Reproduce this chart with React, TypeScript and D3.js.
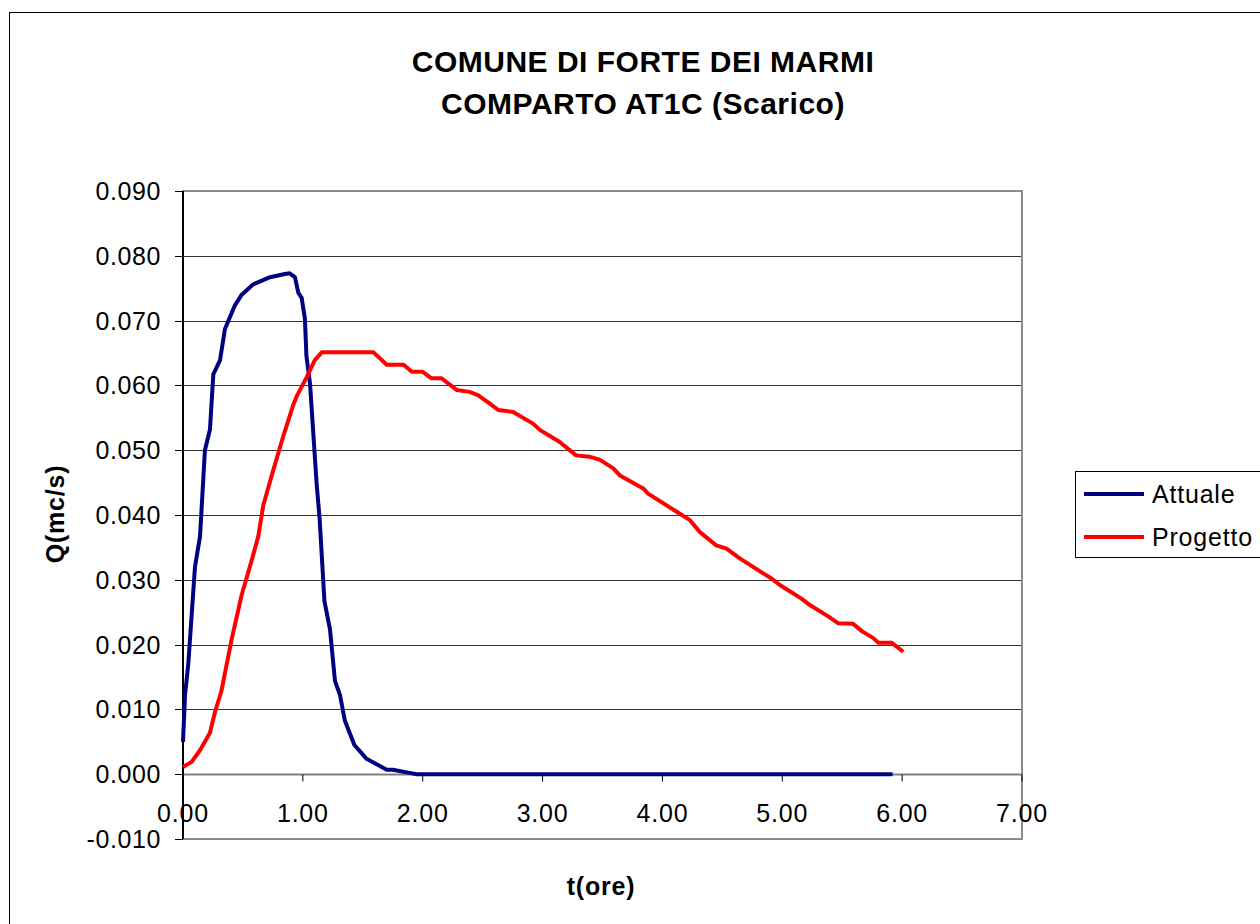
import React, { useEffect, useRef } from 'react';
import * as d3 from 'd3';

// titles / labels
const titleLines = ['COMUNE DI FORTE DEI MARMI', 'COMPARTO AT1C (Scarico)'];
const xTitle = 't(ore)';
const yTitle = 'Q(mc/s)';
const seriesNames = ['Attuale', 'Progetto'];
const seriesColors = ['#000080', '#ff0000'];

const xTicks = [0, 1, 2, 3, 4, 5, 6, 7];
const yTicks = [-0.01, 0, 0.01, 0.02, 0.03, 0.04, 0.05, 0.06, 0.07, 0.08, 0.09];

// Attuale
const attualeT = [0, 0.017, 0.044, 0.10, 0.142, 0.183, 0.225, 0.253, 0.309, 0.35, 0.434, 0.49, 0.586, 0.726, 0.85, 0.89, 0.934, 0.962, 0.99, 1.017, 1.03, 1.06, 1.115, 1.14, 1.18, 1.226, 1.268, 1.31, 1.35, 1.43, 1.53, 1.70, 1.75, 1.89, 1.95, 5.92];
const attualeQ = [0.0050, 0.0122, 0.0170, 0.0320, 0.0367, 0.0500, 0.0532, 0.0617, 0.0639, 0.0687, 0.0724, 0.0740, 0.0756, 0.0767, 0.0772, 0.0773, 0.0767, 0.0743, 0.0735, 0.0703, 0.0645, 0.0602, 0.0448, 0.0394, 0.0267, 0.0224, 0.0144, 0.0122, 0.0083, 0.0045, 0.0024, 0.0007, 0.0007, 0.0002, 0.0, 0.0];

// Progetto
const progettoT = [0, 0.072, 0.142, 0.225, 0.267, 0.32, 0.406, 0.49, 0.573, 0.628, 0.67, 0.753, 0.837, 0.865, 0.92, 0.948, 1.03, 1.10, 1.157, 1.59, 1.70, 1.84, 1.91, 2.0, 2.074, 2.157, 2.283, 2.39, 2.46, 2.56, 2.63, 2.755, 2.92, 2.98, 3.14, 3.28, 3.39, 3.48, 3.59, 3.645, 3.84, 3.88, 4.145, 4.23, 4.31, 4.45, 4.535, 4.645, 4.91, 4.98, 5.16, 5.23, 5.38, 5.465, 5.59, 5.67, 5.76, 5.80, 5.91, 6.01];
const progettoQ = [0.0011, 0.0019, 0.0037, 0.0064, 0.0096, 0.0128, 0.0208, 0.0277, 0.0330, 0.0367, 0.0415, 0.0469, 0.0522, 0.0538, 0.0570, 0.0583, 0.0612, 0.0639, 0.0651, 0.0651, 0.0632, 0.0632, 0.0621, 0.0621, 0.0611, 0.0611, 0.0593, 0.0590, 0.0585, 0.0572, 0.0562, 0.0559, 0.0541, 0.0531, 0.0513, 0.0492, 0.0490, 0.0485, 0.0472, 0.0461, 0.0441, 0.0433, 0.0402, 0.0392, 0.0374, 0.0353, 0.0348, 0.0333, 0.0302, 0.0292, 0.0271, 0.0261, 0.0244, 0.0233, 0.0232, 0.0220, 0.0210, 0.0203, 0.0203, 0.0189];

const W = 1260;
const H = 924;
const font = '"Liberation Sans", Arial, sans-serif';

const App = () => {
    const ref = useRef<SVGSVGElement>(null);

    useEffect(() => {
        const svg = d3.select(ref.current);
        svg.selectAll('*').remove();

        const left = 183, right = 1022, top = 191, bottom = 839;
        const x = d3.scaleLinear().domain([0, 7]).range([left, right]);
        const y = d3.scaleLinear().domain([-0.01, 0.09]).range([bottom, top]);

        svg.append('rect').attr('width', W).attr('height', H).attr('fill', '#fff');

        // chart frame
        svg.append('rect')
            .attr('x', 9.5).attr('y', 12.5)
            .attr('width', W + 20).attr('height', H + 20)
            .attr('fill', 'none').attr('stroke', '#000').attr('stroke-width', 1);

        // gridlines
        svg.selectAll('line.grid')
            .data(yTicks.filter(d => d > 0))
            .enter()
            .append('line')
            .attr('x1', left).attr('x2', right)
            .attr('y1', d => Math.round(y(d)) + 0.5).attr('y2', d => Math.round(y(d)) + 0.5)
            .attr('stroke', '#333').attr('stroke-width', 1.2);

        // plot border (grey)
        svg.append('rect')
            .attr('x', left).attr('y', top)
            .attr('width', right - left).attr('height', bottom - top)
            .attr('fill', 'none').attr('stroke', '#8c8c8c').attr('stroke-width', 2);

        // x axis on zero
        const y0 = Math.round(y(0)) + 0.5;
        svg.append('line')
            .attr('x1', left).attr('x2', right).attr('y1', y0).attr('y2', y0)
            .attr('stroke', '#808080').attr('stroke-width', 2);
        svg.selectAll('line.xtick')
            .data(xTicks)
            .enter()
            .append('line')
            .attr('x1', d => x(d)).attr('x2', d => x(d))
            .attr('y1', y0).attr('y2', y0 + 7)
            .attr('stroke', '#000').attr('stroke-width', 1);
        svg.selectAll('text.xlab')
            .data(xTicks)
            .enter()
            .append('text')
            .text(d => d.toFixed(2))
            .attr('x', d => x(d))
            .attr('y', 822)
            .attr('text-anchor', 'middle')
            .style('font-family', font).style('font-size', '25px').style('letter-spacing', '0.8px');

        // y axis
        svg.append('line')
            .attr('x1', left).attr('x2', left).attr('y1', top).attr('y2', bottom)
            .attr('stroke', '#000').attr('stroke-width', 2);
        svg.selectAll('line.ytick')
            .data(yTicks)
            .enter()
            .append('line')
            .attr('x1', left - 8).attr('x2', left)
            .attr('y1', d => Math.round(y(d)) + 0.5).attr('y2', d => Math.round(y(d)) + 0.5)
            .attr('stroke', '#000').attr('stroke-width', 1);
        svg.selectAll('text.ylab')
            .data(yTicks)
            .enter()
            .append('text')
            .text(d => d.toFixed(3))
            .attr('x', 161)
            .attr('y', d => y(d) + 9)
            .attr('text-anchor', 'end')
            .style('font-family', font).style('font-size', '25px').style('letter-spacing', '0.6px');

        // series
        const line = d3.line<[number, number]>().x(d => x(d[0])).y(d => y(d[1]));
        const series = [
            attualeT.map((t, i) => [t, attualeQ[i]] as [number, number]),
            progettoT.map((t, i) => [t, progettoQ[i]] as [number, number]),
        ];
        series.forEach((s, i) => {
            svg.append('path')
                .attr('d', line(s))
                .attr('fill', 'none')
                .attr('stroke', seriesColors[i])
                .attr('stroke-width', 4)
                .attr('stroke-linejoin', 'round');
        });

        // titles
        titleLines.forEach((t, i) => {
            svg.append('text')
                .text(t)
                .attr('x', 643).attr('y', 72 + i * 42)
                .attr('text-anchor', 'middle')
                .style('font-family', font).style('font-size', '30px').style('font-weight', 'bold')
                .style('letter-spacing', '0.5px');
        });
        svg.append('text')
            .text(xTitle)
            .attr('x', 601).attr('y', 895)
            .attr('text-anchor', 'middle')
            .style('font-family', font).style('font-size', '25px').style('font-weight', 'bold')
            .style('letter-spacing', '0.8px');
        svg.append('text')
            .text(yTitle)
            .attr('transform', 'translate(64,514) rotate(-90)')
            .attr('text-anchor', 'middle')
            .style('font-family', font).style('font-size', '25px').style('font-weight', 'bold')
            .style('letter-spacing', '0.8px');

        // legend
        svg.append('rect')
            .attr('x', 1075.5).attr('y', 471.5)
            .attr('width', 220).attr('height', 86)
            .attr('fill', '#fff').attr('stroke', '#000').attr('stroke-width', 1);
        seriesNames.forEach((n, i) => {
            const ly = 494 + i * 43;
            svg.append('line')
                .attr('x1', 1084).attr('x2', 1144).attr('y1', ly).attr('y2', ly)
                .attr('stroke', seriesColors[i]).attr('stroke-width', 4);
            svg.append('text')
                .text(n)
                .attr('x', 1152).attr('y', ly + 9)
                .style('font-family', font).style('font-size', '25px').style('letter-spacing', '0.8px');
        });
    }, []);

    return (
        <svg ref={ref} width={W} height={H} style={{ position: 'absolute', left: 0, top: 0 }}></svg>
    );
};

export default App;
